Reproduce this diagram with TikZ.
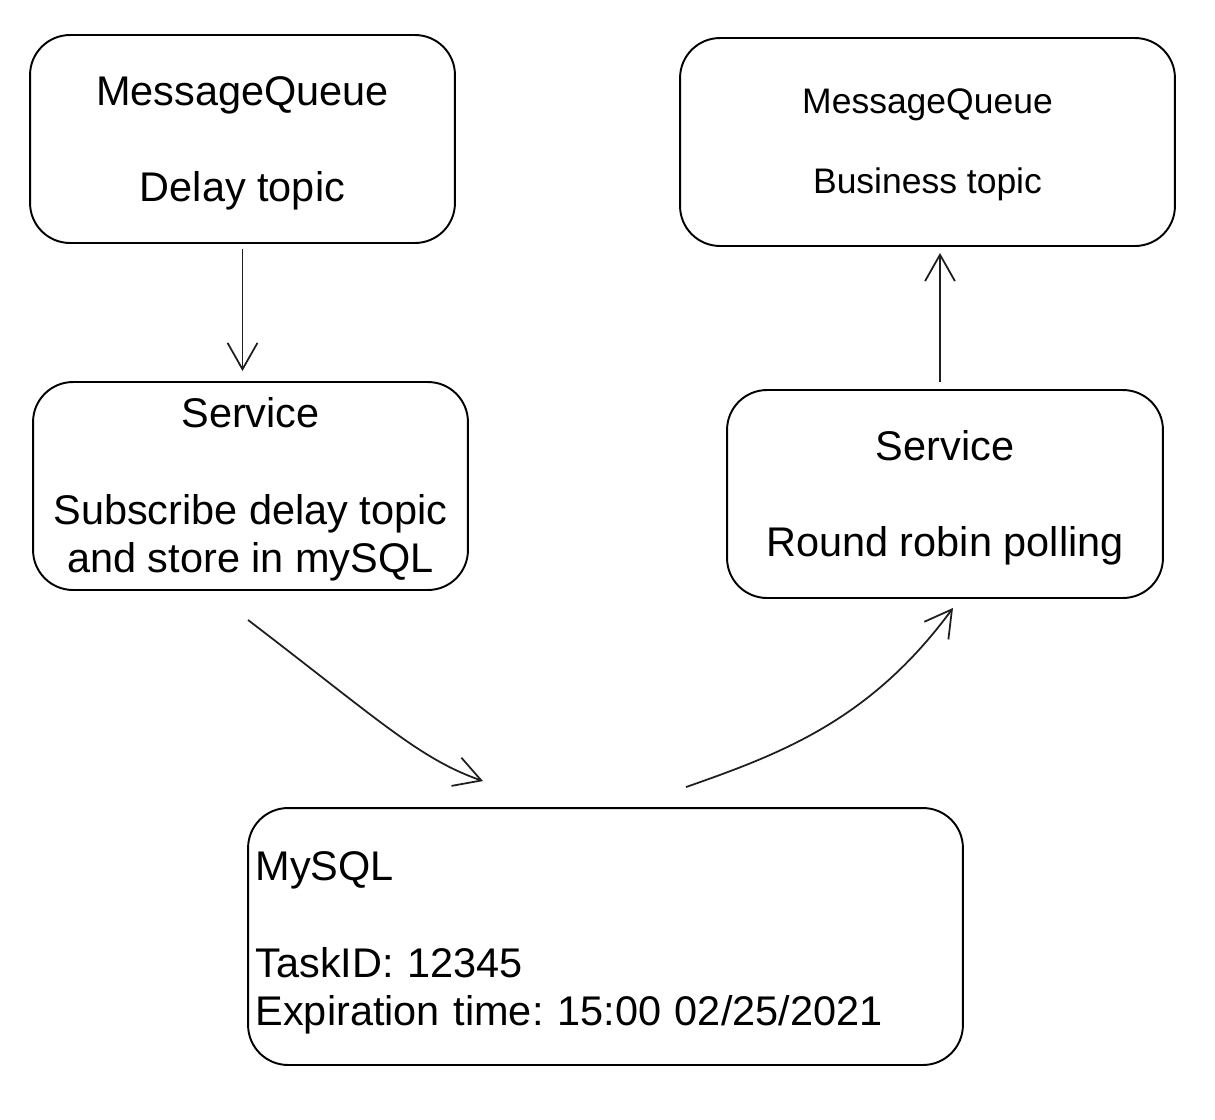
\documentclass[tikz,border=0pt]{standalone}
\usepackage{fontspec}
\setmainfont{Liberation Sans}
\usetikzlibrary{arrows.meta}
\frenchspacing
\newcommand{\padtop}[1]{\rule{0pt}{\dimexpr\fontcharht\font`d+#1\relax}}

\begin{document}
\begin{tikzpicture}[x=0.02cm,y=-0.02cm]
	\tikzstyle{every node}=[font=\fontsize{23.6}{27.5}\selectfont]
	\tikzstyle{box}=[draw, line width=1.1pt, rounded corners=0.8cm, align=center, inner sep=0pt, minimum height=4.16cm]
	\tikzstyle{link}=[line width=1.0pt, -{Straight Barb[length=15pt,width=17pt,line width=1.0pt]}]
	
	\definecolor{inkline}{RGB}{30,30,30}
	%%page frame
	\useasboundingbox (0,0) rectangle (1215,1120);
	
	%%queues
	\node [box, minimum width=8.5cm] (mqdelay) at (242.5,139) {\padtop{5pt}MessageQueue\\[27.5pt]Delay topic};
	\node [box, minimum width=9.9cm, font=\fontsize{20.2}{23}\selectfont] (mqbiz) at (927.5,142) {\padtop{3.4pt}MessageQueue\\[23pt]Business topic};
	
	%%services
	\node [box, minimum width=8.7cm] (svcsub) at (250.5,486) {\padtop{5pt}Service\\[27.5pt]Subscribe delay topic\\and store in mySQL};
	\node [box, minimum width=8.72cm] (svcpoll) at (945,494) {\padtop{5pt}Service\\[27.5pt]Round robin polling};
	
	%%database
	\node [box, minimum width=14.3cm, minimum height=5.14cm, align=left, text width=14.0cm] (db) at (605.5,936.5) {\padtop{7.9pt}MySQL\\[27.5pt]TaskID: 12345\\Expiration time: 15:00 02/25/2021};
	
	%%links
	\draw [link, draw=inkline, shorten <=0.1cm, shorten >=0.2cm] (mqdelay.south) -- (svcsub.north -| mqdelay.south);
	\draw [link, draw=inkline, shorten <=0.14cm, shorten >=0.12cm] ([xshift=-0.1cm]svcpoll.north) -- ([xshift=-0.1cm]svcpoll.north |- mqbiz.south);
	\draw [link, draw=inkline] ([xshift=-0.05cm,yshift=-0.58cm]svcsub.south) .. controls +(132,101) and +(-63,-22) .. ([xshift=-2.45cm,yshift=0.52cm]db.north);
	\draw [link, draw=inkline] ([xshift=1.61cm,yshift=0.4cm]db.north) .. controls +(94,-33) and +(-83,113) .. ([xshift=0.16cm,yshift=-0.18cm]svcpoll.south);

\end{tikzpicture}
\end{document}
